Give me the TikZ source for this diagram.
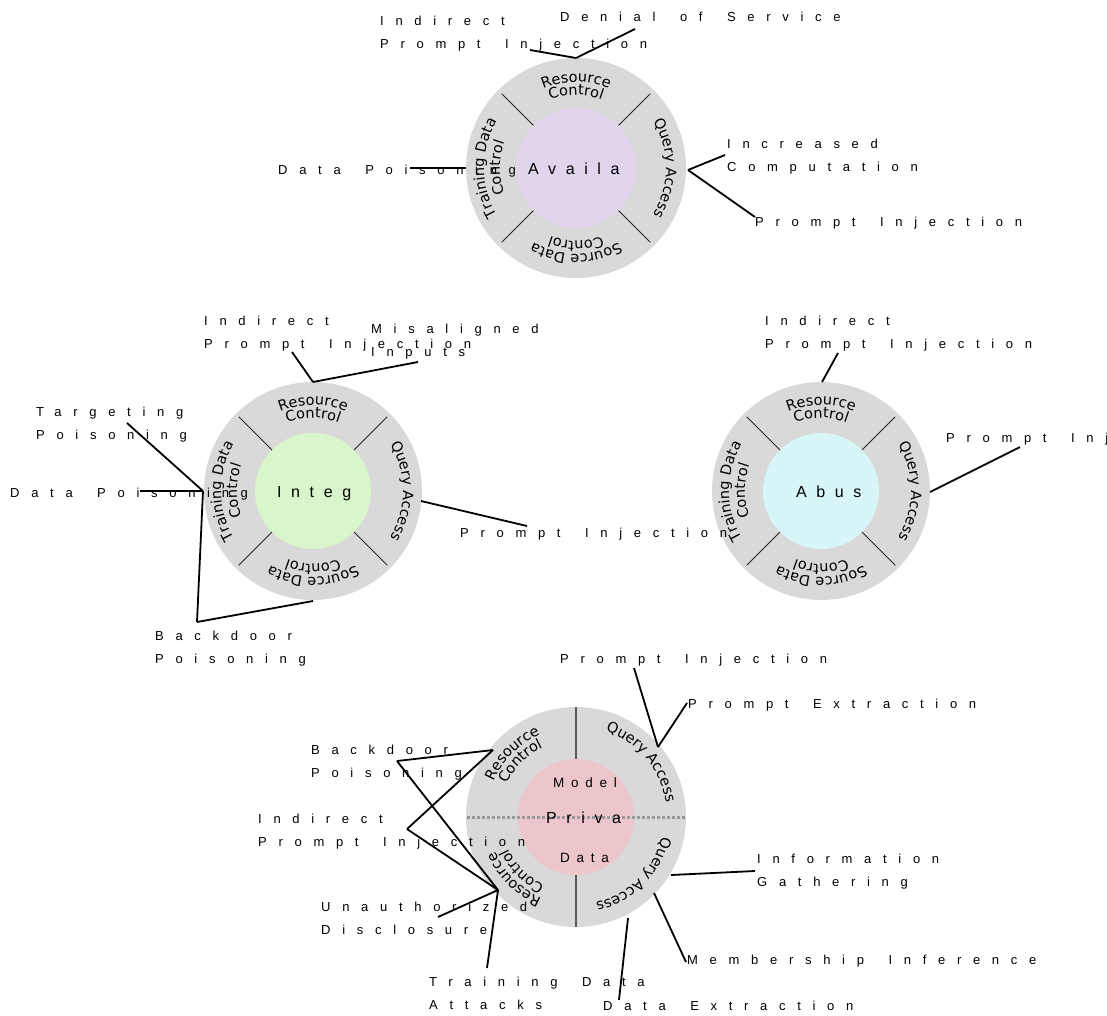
\documentclass[tikz,border=0pt]{standalone}
\usepackage{fontspec}
\usetikzlibrary{decorations.text,calc}
\setmainfont{Liberation Sans}
\newfontfamily\labfam[LetterSpace=90,WordSpace=1.6]{Liberation Sans}
\newfontfamily\cenfam[LetterSpace=60]{Liberation Sans}
\newfontfamily\smlfam[LetterSpace=50]{Liberation Sans}
\newfontfamily\ringfam{DejaVu Sans}
\newcommand\labfont{\labfam\fontsize{13}{23.5}\selectfont}
\newcommand\cenfont{\cenfam\fontsize{16}{18}\selectfont}
\newcommand\smlfont{\smlfam\fontsize{13.5}{16}\selectfont}
\newcommand\ringfont{\ringfam\fontsize{14.5}{16}\selectfont}
\definecolor{ringgray}{HTML}{D9D9D9}
\definecolor{availc}{HTML}{E1D5EE}
\definecolor{integc}{HTML}{D9F5CC}
\definecolor{abusec}{HTML}{D8F5F7}
\definecolor{privc}{HTML}{ECC6CB}
\newcommand\ringtext[5]{%
  \path[decorate,decoration={text along path,text={|\ringfont|#5},text align=center}]
    ($(#1)+(#2+#4:#3pt)$) arc[start angle=#2+#4,end angle=#2-#4,radius=#3pt];}
\newcommand\fourring[1]{%
  \ringtext{#1}{90}{86}{44}{Resource}
  \ringtext{#1}{90}{73}{44}{Control}
  \ringtext{#1}{0}{90}{44}{Query Access}
  \ringtext{#1}{270}{86}{44}{Source Data}
  \ringtext{#1}{270}{73}{44}{Control}
  \ringtext{#1}{180}{92}{44}{Training Data}
  \ringtext{#1}{180}{76}{44}{Control}}
\tikzset{
  lbl/.style={font=\labfont,align=left,inner sep=0pt,anchor=base west},
  ctr/.style={font=\cenfont,inner sep=0pt,anchor=base west},
  sml/.style={font=\smlfont,inner sep=0pt,anchor=base west},
  conn/.style={draw=black,line width=1.8pt},
  divider/.style={draw=black!85,line width=0.9pt},
  pdivider/.style={draw=black!65,line width=1.3pt},
  dotline/.style={draw=black!40,line width=3pt,dash pattern=on 3pt off 2pt},
}
\begin{document}
\begin{tikzpicture}[x=1pt,y=1pt]
\useasboundingbox (0,0) rectangle (1107,-1015);
\begin{scope}
\clip (0,0) rectangle (1107,-1015);
% ---------------- Availability
\coordinate (A) at (576,-168);
\fill[ringgray] (A) circle[radius=110pt];
\foreach \a in {45,135,225,315} \draw[divider] ($(A)+(\a:50pt)$) -- ($(A)+(\a:105pt)$);
\fill[availc] (A) circle[radius=60pt];
\fourring{A}
\node[ctr] (cA) at (528,-174) {Availa};
% ---------------- Integrity
\coordinate (I) at (313,-491);
\fill[ringgray] (I) circle[radius=109pt];
\foreach \a in {45,135,225,315} \draw[divider] ($(I)+(\a:50pt)$) -- ($(I)+(\a:105pt)$);
\fill[integc] (I) circle[radius=58pt];
\fourring{I}
\node[ctr] (cI) at (277,-497) {Integ};
% ---------------- Abuse
\coordinate (B) at (821,-491);
\fill[ringgray] (B) circle[radius=109pt];
\foreach \a in {45,135,225,315} \draw[divider] ($(B)+(\a:50pt)$) -- ($(B)+(\a:105pt)$);
\fill[abusec] (B) circle[radius=58pt];
\fourring{B}
\begin{scope}
\clip (760,-470) rectangle (869,-510);
\node[ctr] (cB) at (796,-497) {Abuse};
\end{scope}
% ---------------- Privacy
\coordinate (P) at (576,-817);
\fill[ringgray] (P) circle[radius=110pt];
\fill[privc] (P) circle[radius=58pt];
\draw[pdivider] (576,-707) -- (576,-759);
\draw[pdivider] (576,-875) -- (576,-927);
\draw[dotline] (467,-817) -- (686,-817);
\ringtext{P}{135}{90}{44}{Resource}
\ringtext{P}{135}{77}{44}{Control}
\ringtext{P}{40}{91}{44}{Query Access}
\ringtext{P}{-45}{88}{44}{Query Access}
\ringtext{P}{225}{88}{44}{Resource}
\ringtext{P}{225}{75}{44}{Control}
\node[sml] (cPm) at (553,-787) {Model};
\node[ctr] (cP) at (546,-823) {Priva};
\node[sml] (cPd) at (560,-862) {Data};
% ---------------- anchor points on rings
\coordinate (aTop) at (576,-58);
\coordinate (aRight) at (688,-170);
\coordinate (aLeft) at (466,-168);
\coordinate (iTop) at (313,-382);
\coordinate (iRight) at (421,-501);
\coordinate (iLeft) at (203,-491);
\coordinate (iBottom) at (313,-601);
\coordinate (bTop) at (822,-382);
\coordinate (bRight) at (930,-492);
\coordinate (pQA1) at (658,-747);
\coordinate (pRC1) at (493,-750);
\coordinate (pRC2) at (498,-890);
\coordinate (pQA2a) at (671,-875);
\coordinate (pQA2b) at (654,-893);
\coordinate (pQA2c) at (628,-918);
% ---------------- label ends
\coordinate (eA1) at (530,-50);
\coordinate (eA2) at (635,-29);
\coordinate (eA3) at (725,-155);
\coordinate (eA4) at (755,-217);
\coordinate (eA5) at (410,-168);
\coordinate (eI1) at (292,-352);
\coordinate (eI2) at (418,-362);
\coordinate (eI3) at (127,-423);
\coordinate (eI4) at (140,-491);
\coordinate (eI5) at (197,-622);
\coordinate (eI6) at (527,-526);
\coordinate (eB1) at (838,-353);
\coordinate (eB2) at (1020,-447);
\coordinate (eP1) at (634,-668);
\coordinate (eP2) at (687,-703);
\coordinate (eP3) at (397,-761);
\coordinate (eP4) at (407,-829);
\coordinate (eP5) at (438,-917);
\coordinate (eP6) at (487,-968);
\coordinate (eP7) at (755,-871);
\coordinate (eP8) at (686,-962);
\coordinate (eP9) at (619,-1000);
% ---------------- labels (base = last line)
\node[lbl] (nA1) at (380,-48.5) {Indirect\\Prompt Injection};
\node[lbl] (nA2) at (560,-21) {Denial of Service};
\node[lbl] (nA3) at (727,-171.5) {Increased\\Computation};
\node[lbl] (nA4) at (755,-226) {Prompt Injection};
\node[lbl] (nA5) at (278,-174) {Data Poisoning};
\node[lbl] (nI1) at (204,-348.5) {Indirect\\Prompt Injection};
\node[lbl] (nI2) at (371,-356.5) {Misaligned\\Inputs};
\node[lbl] (nI3) at (36,-439.5) {Targeting\\Poisoning};
\node[lbl] (nI4) at (10,-497) {Data Poisoning};
\node[lbl] (nI5) at (155,-663.5) {Backdoor\\Poisoning};
\node[lbl] (nI6) at (460,-537) {Prompt Injection};
\node[lbl] (nB1) at (765,-348.5) {Indirect\\Prompt Injection};
\node[lbl] (nB2) at (946,-442) {Prompt Injection};
\node[lbl] (nP1) at (560,-663) {Prompt Injection};
\node[lbl] (nP2) at (688,-708) {Prompt Extraction};
\node[lbl] (nP3) at (311,-777.5) {Backdoor\\Poisoning};
\node[lbl] (nP4) at (258,-846.5) {Indirect\\Prompt Injection};
\node[lbl] (nP5) at (321,-934.5) {Unauthorized\\Disclosure};
\node[lbl] (nP6) at (429,-1009.5) {Training Data\\Attacks};
\node[lbl] (nP7) at (757,-886.5) {Information\\Gathering};
\node[lbl] (nP8) at (687,-964) {Membership Inference};
\node[lbl] (nP9) at (603,-1010) {Data Extraction};
% ---------------- connectors
\draw[conn] (eA1) -- (aTop);
\draw[conn] (eA2) -- (aTop);
\draw[conn] (eA3) -- (aRight);
\draw[conn] (eA4) -- (aRight);
\draw[conn] (eA5) -- (aLeft);
\draw[conn] (eI1) -- (iTop);
\draw[conn] (eI2) -- (iTop);
\draw[conn] (eI3) -- (iLeft);
\draw[conn] (eI4) -- (iLeft);
\draw[conn] (eI5) -- (iLeft);
\draw[conn] (eI5) -- (iBottom);
\draw[conn] (eI6) -- (iRight);
\draw[conn] (eB1) -- (bTop);
\draw[conn] (eB2) -- (bRight);
\draw[conn] (eP1) -- (pQA1);
\draw[conn] (eP2) -- (pQA1);
\draw[conn] (eP3) -- (pRC1);
\draw[conn] (eP3) -- (pRC2);
\draw[conn] (eP4) -- (pRC1);
\draw[conn] (eP4) -- (pRC2);
\draw[conn] (eP5) -- (pRC2);
\draw[conn] (eP6) -- (pRC2);
\draw[conn] (eP7) -- (pQA2a);
\draw[conn] (eP8) -- (pQA2b);
\draw[conn] (eP9) -- (pQA2c);
\end{scope}
\end{tikzpicture}
\end{document}
